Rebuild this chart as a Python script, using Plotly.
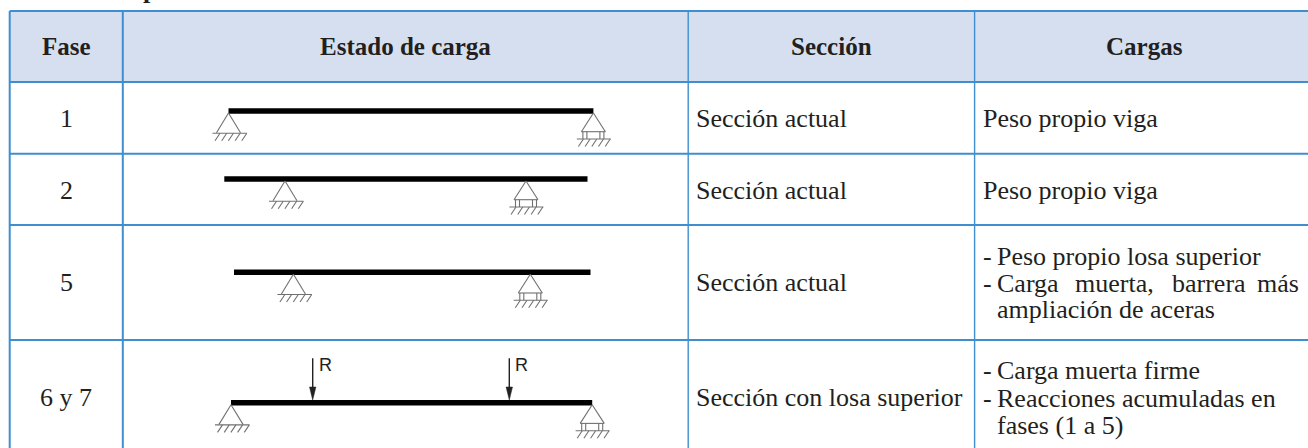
import plotly.graph_objects as go

# ---- table content ----
headers = ["Fase", "Estado de carga", "Sección", "Cargas"]
fases = ["1", "2", "5", "6 y 7"]
secciones = ["Sección actual", "Sección actual", "Sección actual", "Sección con losa superior"]
cargas_simple = ["Peso propio viga", "Peso propio viga"]

# ---- grid geometry (page pixels) ----
col_edges = [9.7, 122.8, 688.2, 974.6]
right_edge = 1308
row_edges = [11, 82, 153.7, 225, 340]
bottom_edge = 448

# ---- beam diagrams: start, end, height, supports ----
beam_x0 = [228.5, 224.3, 234.0, 231.0]
beam_x1 = [593.4, 587.5, 590.5, 592.2]
beam_y = [111.0, 179.0, 272.3, 402.7]
pin_x = [228.5, 285.0, 293.4, 231.0]
roller_x = [593.4, 526.0, 530.3, 592.2]
reaction_x = [312.7, 509.3]

INK = "#231f20"
BLUE = "#3f8fd0"
HEAD = "#d6dff0"
GREY = "#707070"
SERIF = "Liberation Serif"
BODY = 26
HEADSZ = 25

fig = go.Figure()

# header background
fig.add_trace(go.Scatter(
    x=[col_edges[0], right_edge, right_edge, col_edges[0], col_edges[0]],
    y=[row_edges[0], row_edges[0], row_edges[1], row_edges[1], row_edges[0]],
    mode="lines", fill="toself", fillcolor=HEAD, line=dict(width=0), hoverinfo="skip"))

# grid
gx, gy = [], []
for y in row_edges:
    gx += [col_edges[0], right_edge, None]
    gy += [y, y, None]
fig.add_trace(go.Scatter(x=gx, y=gy, mode="lines", line=dict(color=BLUE, width=2), hoverinfo="skip"))
for i, x in enumerate(col_edges):
    fig.add_trace(go.Scatter(x=[x, x], y=[row_edges[0], bottom_edge], mode="lines",
                             line=dict(color=BLUE, width=2 if i < 2 else 1.4), hoverinfo="skip"))

# beams
bx, by = [], []
for a, b, y in zip(beam_x0, beam_x1, beam_y):
    bx += [a, b, None]
    by += [y, y, None]
fig.add_trace(go.Scatter(x=bx, y=by, mode="lines", line=dict(color="black", width=5.5), hoverinfo="skip"))

# supports
sx, sy = [], []
def seg(x0, y0, x1, y1):
    sx.extend([x0, x1, None])
    sy.extend([y0, y1, None])

def hatch(cx, top, start):
    for k in range(5):
        t = cx + start + k * 6.7
        seg(t, top, t - 5, top + 7.5)

for px, rx, y in zip(pin_x, roller_x, beam_y):
    # pinned support
    seg(px, y + 2, px - 12, y + 21.7)
    seg(px, y + 2, px + 12, y + 21.7)
    seg(px - 16, y + 22.2, px + 18.5, y + 22.2)
    hatch(px, y + 22.2, -8.5)
    # roller support
    seg(rx, y + 2, rx - 12, y + 20.7)
    seg(rx, y + 2, rx + 12, y + 20.7)
    seg(rx - 12, y + 20.7, rx + 12, y + 20.7)
    for d in (-10.5, -6.5, 6.5, 10.5):
        seg(rx + d, y + 20.7, rx + d, y + 28)
    seg(rx - 16.6, y + 28, rx + 17.4, y + 28)
    hatch(rx, y + 28, -10)
fig.add_trace(go.Scatter(x=sx, y=sy, mode="lines", line=dict(color=GREY, width=1.1), hoverinfo="skip"))

# point loads
for rx in reaction_x:
    fig.add_trace(go.Scatter(x=[rx, rx], y=[358.3, 390], mode="lines",
                             line=dict(color="#222222", width=1.4), hoverinfo="skip"))
    fig.add_trace(go.Scatter(x=[rx - 3.2, rx + 3.2, rx, rx - 3.2], y=[387, 387, 400, 387], mode="lines",
                             fill="toself", fillcolor="#222222", line=dict(color="#222222", width=0.5),
                             hoverinfo="skip"))

def label(text, x, y, size=BODY, bold=False, anchor="left", family=SERIF, color=INK, yanchor="middle"):
    fig.add_annotation(x=x, y=y, text=f"<b>{text}</b>" if bold else text, showarrow=False,
                       xanchor=anchor, yanchor=yanchor, xshift=0, align="left",
                       font=dict(family=family, size=size, color=color),
                       borderpad=0, borderwidth=0)

# clipped title fragment at the top
label("p", 150, 4, size=26, bold=True, anchor="center", yanchor="bottom")

# header
for t, x in zip(headers, [66, 405, 831.5, 1144.7]):
    label(t, x, 46.5, size=HEADSZ, bold=True, anchor="center")

# body
for t, y in zip(fases, [118.5, 190, 282.3, 397]):
    label(t, 66, y, anchor="center")
for t, y in zip(secciones, [118.5, 190, 282.3, 397]):
    label(t, 696.4, y)
for t, y in zip(cargas_simple, [118.5, 190]):
    label(t, 983, y)

DASH_X, TEXT_X = 983, 996.8
for y in [256.7, 283.3, 370.7, 398]:
    label("-", DASH_X, y)
label("Peso propio losa superior", TEXT_X, 256.7)
for w, x in zip(["Carga", "muerta,", "barrera", "más"], [996.8, 1075, 1172, 1257]):
    label(w, x, 283.3)
label("ampliación de aceras", TEXT_X, 309.7)
label("Carga muerta firme", TEXT_X, 370.7)
label("Reacciones acumuladas en", TEXT_X, 398)
label("fases (1 a 5)", TEXT_X, 425.7)

for rx in reaction_x:
    label("R", rx + 6, 364.5, size=18, family="Liberation Sans", color="#222222")

fig.update_layout(
    width=1308, height=448, margin=dict(l=0, r=0, t=0, b=0),
    paper_bgcolor="white", plot_bgcolor="white", showlegend=False,
    xaxis=dict(range=[0, 1308], visible=False, fixedrange=True),
    yaxis=dict(range=[448, 0], visible=False, fixedrange=True),
)
fig.write_html("out.html", config={"displayModeBar": False},
               post_script="document.body.style.margin='0';document.body.style.overflow='hidden';")
